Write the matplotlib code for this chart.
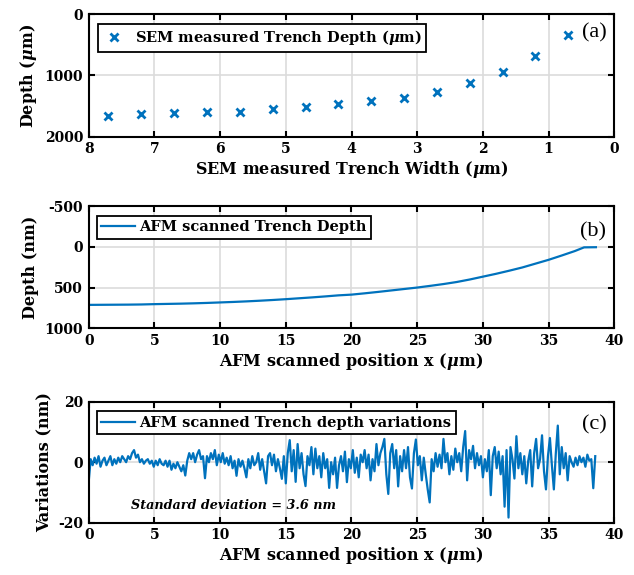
import numpy as np
import matplotlib
matplotlib.use("Agg")
import matplotlib.pyplot as plt

# ---------------- data ----------------
# (a) SEM measurements
sem_width = [7.7, 7.2, 6.7, 6.2, 5.7, 5.2, 4.7, 4.2, 3.7, 3.2, 2.7, 2.2, 1.7, 1.2, 0.7]
sem_depth = [1665, 1622, 1611, 1600, 1589, 1551, 1519, 1470, 1416, 1362, 1265, 1130, 935, 686, 340]

# (b) AFM depth profile
afm_x = [0, 1, 2, 3, 4, 5, 6, 7, 8, 9, 10, 11, 12, 13, 14, 15, 16, 17, 18, 19, 20,
         21, 22, 23, 24, 25, 26, 27, 28, 29, 30, 31, 32, 33, 34, 35, 36, 37, 37.7, 38.6]
afm_depth = [712, 711, 710, 709, 707, 703, 700, 697, 693, 688, 682, 676, 669, 661, 652,
             642, 631, 620, 608, 595, 586, 570, 553, 535, 517, 499, 478, 456, 431, 400,
             365, 330, 292, 252, 205, 158, 105, 50, 5, 3]

# (c) AFM depth variations (nm), sampled every 0.15 um from 0 to 38.55 um
var_step = 0.15
var_vals = [
    -6.4, 1.0, -1.0, 1.5, -0.5, 2.0, -1.5, 0.5, 1.5, -1.0,
    0.5, 2.0, -1.0, 1.0, -0.5, 1.5, 0.0, 2.0, 1.0, 0.0,
    2.0, 1.0, 3.0, 4.0, 1.5, 2.5, 0.0, 1.0, -0.5, 0.5,
    1.0, -0.5, 0.5, -1.5, 0.5, -1.0, 1.0, -0.5, -1.0, 0.5,
    -1.5, 0.5, -2.5, -0.5, -2.0, 0.0, -1.5, -3.0, -1.0, -4.4,
    0.5, 3.0, 1.0, 3.0, 0.0, 2.5, 4.0, 1.0, 2.0, -5.3,
    2.0, 0.0, 3.0, 1.0, 4.0, -1.0, 2.5, 0.0, 3.0, -0.5,
    1.5, -1.0, 2.0, -2.0, 0.5, -4.5, 1.0, -1.5, 0.5, -2.0,
    -5.0, 1.0, -2.0, 2.0, -1.0, 0.0, 3.0, -2.5, 1.0, -3.0,
    -7.0, 2.0, 3.0, -1.0, 2.5, -3.0, 1.0, -2.0, -5.5, 2.0,
    -7.0, 3.0, 7.3, -3.0, 4.0, -6.5, 6.0, -2.0, 3.0, -4.0,
    -7.9, 2.0, -1.0, 5.0, -4.0, 4.5, -2.0, 2.0, -5.0, 3.0,
    -2.0, 1.0, -8.5, 0.0, -4.0, 1.5, -8.5, -1.0, 2.0, -3.0,
    3.5, -6.6, 1.0, -2.0, 4.0, -3.5, 1.5, -5.0, 2.5, 0.0,
    4.0, -2.0, 2.5, -6.0, 1.0, -3.0, 6.0, -1.0, 3.0, 5.0,
    7.7, -4.0, -10.5, 3.0, 6.0, -2.0, 4.0, -8.0, 2.0, -3.0,
    4.0, -2.0, 5.0, -5.0, -8.7, 3.0, 7.5, -1.0, 2.0, -6.0,
    1.5, -4.0, -9.0, -13.3, 1.0, -3.0, 3.0, -1.5, 2.5, -2.0,
    7.7, 0.0, 3.0, -4.0, 2.0, -2.5, 4.5, 0.0, 3.0, -3.0,
    5.0, 10.3, -6.0, 4.0, 1.0, 5.4, -2.0, 3.0, -1.0, 2.0,
    -5.0, 1.0, -3.0, 4.0, -10.9, 2.0, 5.0, -2.0, 3.5, -4.0,
    2.0, -14.7, 4.0, -18.3, 5.0, 1.0, -5.4, 8.6, -2.0, 3.0,
    -4.0, 2.0, -7.0, 0.5, 4.0, -8.0, 3.0, 7.7, -2.0, 1.0,
    8.9, -3.0, -9.0, 2.0, 8.0, -1.0, -9.0, 3.0, 12.1, -4.0,
    5.0, -2.0, 3.0, -6.0, 2.0, 0.0, -1.5, 1.5, -1.0, 2.0,
    0.0, 1.5, -1.5, 2.5, 0.5, 1.0, -8.6, 2.0,
]
var_x = np.arange(len(var_vals)) * var_step

# ---------------- style ----------------
BLUE = "#0072BD"
plt.rcParams["font.family"] = ["DejaVu Serif"]
plt.rcParams["font.weight"] = "bold"
plt.rcParams["mathtext.fontset"] = "dejavuserif"
plt.rcParams["axes.linewidth"] = 1.5
plt.rcParams["axes.unicode_minus"] = False

fig = plt.figure(figsize=(6.34, 5.75), dpi=100)
W, H = 634, 575

def add_ax(left, top, right, bottom):
    return fig.add_axes([left / W, 1 - bottom / H, (right - left) / W, (bottom - top) / H])

ax_a = add_ax(88.7, 14.3, 614.3, 136.7)
ax_b = add_ax(88.7, 206.3, 614.3, 328.3)
ax_c = add_ax(88.7, 401.7, 614.3, 522.7)

TICK_FS = 10
LABEL_FS = 11.5
LEG_FS = 10.5

def style(ax):
    ax.tick_params(direction="in", length=4.5, width=1.5, top=True, right=True,
                   labelsize=TICK_FS, pad=4)
    for lab in ax.get_xticklabels() + ax.get_yticklabels():
        lab.set_fontweight("bold")
    ax.grid(True, color="#dcdcdc", linewidth=1.2)
    ax.set_axisbelow(True)

def legend(ax, handlelength=2.3, handletextpad=0.35, x0=0.015):
    leg = ax.legend(loc="upper left", bbox_to_anchor=(x0, 0.92), fancybox=False,
                    edgecolor="black", framealpha=1, fontsize=LEG_FS,
                    borderpad=0.3, handlelength=handlelength, handletextpad=handletextpad,
                    borderaxespad=0.0)
    leg.get_frame().set_linewidth(1.3)
    for t in leg.get_texts():
        t.set_fontweight("bold")
    return leg

# (a)
ax_a.plot(sem_width, sem_depth, linestyle="none", marker="x", color=BLUE,
          markersize=5.5, markeredgewidth=2, label=r"SEM measured Trench Depth ($\mu$m)")
ax_a.set_xlim(8, 0)
ax_a.set_ylim(2000, 0)
ax_a.set_xticks(range(8, -1, -1))
ax_a.set_yticks([0, 1000, 2000])
ax_a.set_xlabel(r"SEM measured Trench Width ($\mu$m)", fontsize=LABEL_FS, fontweight="bold", labelpad=2)
ax_a.set_ylabel(r"Depth ($\mu$m)", fontsize=LABEL_FS, fontweight="bold", labelpad=4)
style(ax_a)
legend(ax_a, handlelength=1.6, handletextpad=0.6, x0=0.018)
ax_a.text(0.985, 0.85, "(a)", transform=ax_a.transAxes, ha="right", va="center",
          fontsize=16, fontweight="normal", family="Liberation Serif")

# (b)
ax_b.plot(afm_x, afm_depth, color=BLUE, linewidth=1.6, label="AFM scanned Trench Depth")
ax_b.set_xlim(0, 40)
ax_b.set_ylim(1000, -500)
ax_b.set_xticks(range(0, 41, 5))
ax_b.set_yticks([-500, 0, 500, 1000])
ax_b.set_xlabel(r"AFM scanned position x ($\mu$m)", fontsize=LABEL_FS, fontweight="bold", labelpad=2)
ax_b.set_ylabel("Depth (nm)", fontsize=LABEL_FS, fontweight="bold", labelpad=4)
style(ax_b)
legend(ax_b)
ax_b.text(0.985, 0.79, "(b)", transform=ax_b.transAxes, ha="right", va="center",
          fontsize=16, fontweight="normal", family="Liberation Serif")

# (c)
ax_c.plot(var_x, var_vals, color=BLUE, linewidth=1.6, label="AFM scanned Trench depth variations")
ax_c.set_xlim(0, 40)
ax_c.set_ylim(-20, 20)
ax_c.set_xticks(range(0, 41, 5))
ax_c.set_yticks([-20, 0, 20])
ax_c.set_xlabel(r"AFM scanned position x ($\mu$m)", fontsize=LABEL_FS, fontweight="bold", labelpad=2)
ax_c.set_ylabel("Variations (nm)", fontsize=LABEL_FS, fontweight="bold", labelpad=4)
style(ax_c)
legend(ax_c)
ax_c.text(0.985, 0.81, "(c)", transform=ax_c.transAxes, ha="right", va="center",
          fontsize=16, fontweight="normal", family="Liberation Serif")
ax_c.text(0.08, 0.145, "Standard deviation = 3.6 nm", transform=ax_c.transAxes,
          ha="left", va="center", fontsize=9.2, fontweight="bold", fontstyle="italic")

fig.savefig("out.png", dpi=100)
